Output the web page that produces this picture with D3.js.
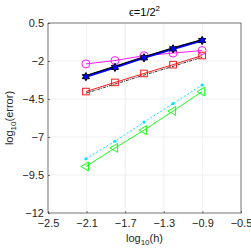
<!DOCTYPE html>
<html>
<head>
<meta charset="utf-8">
<script src="https://cdn.jsdelivr.net/npm/d3@7"></script>
<style>
  body { margin: 0; background: #fff; }
  text { font-family: "Liberation Sans", Arial, sans-serif; }
</style>
</head>
<body>
<svg id="chart"></svg>
<script>
const logH = [-2.107, -1.806, -1.505, -1.204, -0.903];
const magenta = [-2.19, -1.97, -1.65, -1.48, -1.31];
const blue = [-3.03, -2.42, -1.79, -1.20, -0.65];
const red = [-4.01, -3.41, -2.82, -2.24, -1.64];
const blackRef = [-4.12, -3.52, -2.93, -2.35, -1.75];
const cyan = [-8.43, -7.28, -6.02, -4.80, -3.58];
const green = [-8.94, -7.72, -6.55, -5.29, -4.01];
const xTicks = [-2.5, -2.1, -1.7, -1.3, -0.9, -0.5];
const yTicks = [0.5, -2, -4.5, -7, -9.5, -12];

const svg = d3.select('#chart').attr('width', 251).attr('height', 251);
const mLeft = 48, mRight = 241, mTop = 23, mBottom = 213;

const x = d3.scaleLinear().domain([-2.5, -0.5]).range([mLeft, mRight]);
const y = d3.scaleLinear().domain([-12, 0.5]).range([mBottom, mTop]);

// grid
const grid = svg.append('g');
grid.selectAll('line.gx').data(xTicks).enter().append('line')
  .attr('x1', d => x(d)).attr('x2', d => x(d)).attr('y1', mTop).attr('y2', mBottom)
  .attr('stroke', '#e6e6e6').attr('stroke-width', 0.6);
grid.selectAll('line.gy').data(yTicks).enter().append('line')
  .attr('x1', mLeft).attr('x2', mRight).attr('y1', d => y(d)).attr('y2', d => y(d))
  .attr('stroke', '#e6e6e6').attr('stroke-width', 0.6);

// axes
const xAxis = svg.append('g').attr('transform', `translate(0,${mBottom})`)
  .call(d3.axisBottom(x).tickValues(xTicks).tickSize(-2).tickPadding(6).tickFormat(d3.format('')));
const yAxis = svg.append('g').attr('transform', `translate(${mLeft},0)`)
  .call(d3.axisLeft(y).tickValues(yTicks).tickSize(-2).tickPadding(4).tickFormat(d3.format('')));
[xAxis, yAxis].forEach(a => {
  a.select('.domain').remove();
  a.selectAll('line').attr('stroke', '#262626').attr('stroke-width', 0.6);
  a.selectAll('text').attr('fill', '#262626').style('font-size', '11px')
    .style('font-family', '"Liberation Sans", Arial, sans-serif');
});
yAxis.selectAll('text').attr('dy', '0.3em');
svg.append('rect').attr('x', mLeft).attr('y', mTop).attr('width', mRight - mLeft).attr('height', mBottom - mTop)
  .attr('fill', 'none').attr('stroke', '#262626').attr('stroke-width', 0.6);

const line = d3.line().x((d, i) => x(logH[i])).y(d => y(d));

function series(vals, color, width, dash) {
  svg.append('path').datum(vals).attr('d', line).attr('fill', 'none')
    .attr('stroke', color).attr('stroke-width', width).attr('stroke-dasharray', dash || null);
}

// black dash-dot reference below red
series(blackRef, '#000', 0.8, '3,1,1,1');
// red squares
series(red, '#ff0000', 0.9);
svg.append('g').selectAll('rect').data(red).enter().append('rect')
  .attr('x', (d, i) => x(logH[i]) - 3.3).attr('y', d => y(d) - 3.3)
  .attr('width', 6.6).attr('height', 6.6).attr('fill', 'none').attr('stroke', '#ff0000').attr('stroke-width', 0.9);

// magenta circles
series(magenta, '#ff00ff', 0.9);
svg.append('g').selectAll('circle').data(magenta).enter().append('circle')
  .attr('cx', (d, i) => x(logH[i])).attr('cy', d => y(d)).attr('r', 4)
  .attr('fill', 'none').attr('stroke', '#ff00ff').attr('stroke-width', 0.9);

// blue + black hexagrams
series(blue, '#0000ff', 2.2);
series(blue.map(v => v + 0.07), '#000', 1.1);
const hexagram = {
  draw(ctx, size) {
    const r = Math.sqrt(size) * 0.75, ri = r * 0.58;
    for (let k = 0; k < 12; k++) {
      const a = Math.PI / 2 + k * Math.PI / 6, rr = k % 2 ? ri : r;
      const px = rr * Math.cos(a), py = -rr * Math.sin(a);
      k ? ctx.lineTo(px, py) : ctx.moveTo(px, py);
    }
    ctx.closePath();
  }
};
svg.append('g').selectAll('path').data(blue).enter().append('path')
  .attr('transform', (d, i) => `translate(${x(logH[i])},${y(d)})`)
  .attr('d', d3.symbol().type(hexagram).size(30))
  .attr('fill', '#0000ff').attr('stroke', '#000').attr('stroke-width', 1);

// cyan dotted with dots
series(cyan, '#00e5ff', 1, '2,2');
svg.append('g').selectAll('circle').data(cyan).enter().append('circle')
  .attr('cx', (d, i) => x(logH[i])).attr('cy', d => y(d)).attr('r', 1.6)
  .attr('fill', '#00e5ff');

// green left triangles
series(green, '#00ff00', 0.9);
const tri = d3.symbol().type(d3.symbolTriangle).size(34);
svg.append('g').selectAll('path').data(green).enter().append('path')
  .attr('transform', (d, i) => `translate(${x(logH[i])},${y(d)}) rotate(-90)`)
  .attr('d', tri).attr('fill', 'none').attr('stroke', '#00ff00').attr('stroke-width', 0.9);

// title
const title = svg.append('text').attr('x', (mLeft + mRight) / 2).attr('y', 16)
  .attr('text-anchor', 'middle').style('font-size', '11px').attr('fill', '#000');
title.append('tspan').text('\u03F5=1/2');
title.append('tspan').attr('dy', -5).style('font-size', '8px').text('2');

// x label
const xl = svg.append('text').attr('x', (mLeft + mRight) / 2).attr('y', 242)
  .attr('text-anchor', 'middle').style('font-size', '11px').attr('fill', '#262626');
xl.append('tspan').text('log');
xl.append('tspan').attr('dy', 3).style('font-size', '8px').text('10');
xl.append('tspan').attr('dy', -3).text('(h)');

// y label
const yl = svg.append('text').attr('transform', `translate(13,${(mTop + mBottom) / 2}) rotate(-90)`)
  .attr('text-anchor', 'middle').style('font-size', '11px').attr('fill', '#262626');
yl.append('tspan').text('log');
yl.append('tspan').attr('dy', 3).style('font-size', '8px').text('10');
yl.append('tspan').attr('dy', -3).text('(error)');
</script>
</body>
</html>
